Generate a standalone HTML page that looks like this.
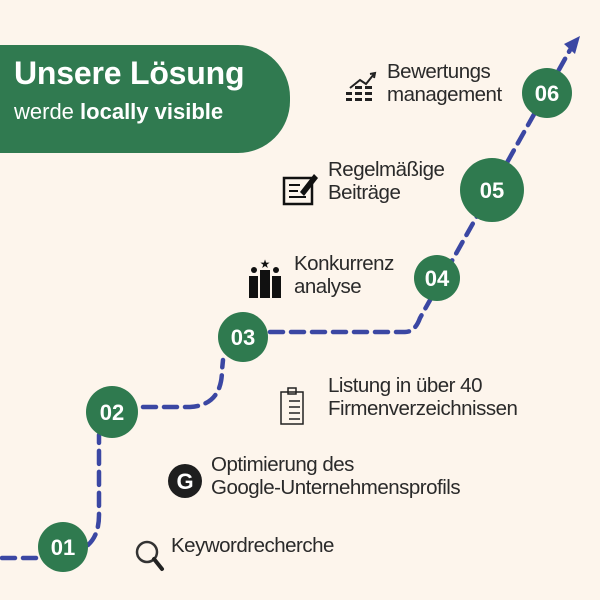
<!DOCTYPE html>
<html><head><meta charset="utf-8"><style>
html,body{margin:0;padding:0}
body{width:600px;height:600px;background:#fdf5ec;position:relative;overflow:hidden;font-family:"Liberation Sans",sans-serif;color:#2a2a2a}
.t{position:absolute;font-size:20.5px;line-height:23px;letter-spacing:-0.5px;white-space:nowrap}
</style></head><body>
<div style="position:absolute;left:0;top:45px;width:290px;height:108px;background:#307a50;border-radius:0 52px 52px 0"></div>
<div style="position:absolute;left:14px;top:55px;color:#fff;font-size:32px;font-weight:bold;letter-spacing:-0.2px">Unsere Lösung</div>
<div style="position:absolute;left:14px;top:99px;color:#fff;font-size:22px">werde <b>locally visible</b></div>
<svg width="600" height="600" style="position:absolute;left:0;top:0">
<g fill="none" stroke="#3b47a3" stroke-width="4.5" stroke-dasharray="13 8" stroke-linecap="round">
<path d="M2 558 L50 558 M88 545 Q99 535 99 515 L99 435 M143 407 L190 407 Q222 405 222 370 L223 360 M270 332 L405 332 Q415 332 420 318 L570 50"/>
</g>
<polygon points="580,36 564,44 575,54" fill="#3b47a3"/>
<g fill="#2f7a4f">
<circle cx="63" cy="547" r="25"/><circle cx="112" cy="412" r="26"/><circle cx="243" cy="337" r="25"/>
<circle cx="437" cy="278" r="23"/><circle cx="492" cy="190" r="32"/><circle cx="547" cy="93" r="25"/>
</g>
<g fill="#fff" font-family="Liberation Sans,sans-serif" font-weight="bold" font-size="22" text-anchor="middle">
<text x="63" y="555">01</text><text x="112" y="420">02</text><text x="243" y="345">03</text>
<text x="437" y="286">04</text><text x="492" y="198">05</text><text x="547" y="101">06</text>
</g>
<circle cx="147" cy="552" r="10" fill="none" stroke="#333" stroke-width="2.5"/>
<line x1="154" y1="559" x2="162" y2="569" stroke="#222" stroke-width="4" stroke-linecap="round"/>
<circle cx="185" cy="481" r="17" fill="#1e1e1e"/>
<text x="185" y="489" fill="#fff" font-size="22" font-weight="bold" text-anchor="middle" font-family="Liberation Sans,sans-serif">G</text>
<rect x="281" y="392" width="22" height="32" fill="none" stroke="#222" stroke-width="1.5"/>
<rect x="288" y="388" width="8" height="6" fill="none" stroke="#222" stroke-width="1.5"/>
<g stroke="#222" stroke-width="1.5"><line x1="289" y1="401" x2="300" y2="401"/><line x1="289" y1="407" x2="300" y2="407"/><line x1="289" y1="413" x2="300" y2="413"/><line x1="289" y1="419" x2="300" y2="419"/></g>
<g fill="#111"><rect x="249" y="276" width="9" height="22"/><rect x="260" y="270" width="10" height="28"/><rect x="272" y="276" width="9" height="22"/>
<circle cx="254" cy="270" r="3"/><circle cx="276" cy="270" r="3"/><text x="265" y="268" font-size="12" text-anchor="middle">★</text></g>
<rect x="284" y="178" width="28" height="26" fill="none" stroke="#111" stroke-width="2.5"/>
<g stroke="#111" stroke-width="2"><line x1="289" y1="185" x2="300" y2="185"/><line x1="289" y1="191" x2="298" y2="191"/><line x1="289" y1="197" x2="306" y2="197"/></g>
<path d="M300 192 L314 174 L318 178 L304 196 Z" fill="#111"/>
<g stroke="#222" stroke-width="2" fill="none"><path d="M350 88 L360 80 L366 84 L374 74"/><path d="M370 74 L375 73 L374 78"/></g>
<g fill="#222"><rect x="346" y="92" width="6" height="3"/><rect x="355" y="92" width="7" height="3"/><rect x="365" y="92" width="7" height="3"/><rect x="346" y="98" width="6" height="3"/><rect x="355" y="98" width="7" height="3"/><rect x="365" y="98" width="7" height="3"/><rect x="355" y="86" width="7" height="3"/><rect x="365" y="86" width="7" height="3"/></g>
</svg>
<div class="t" style="left:171px;top:534px">Keywordrecherche</div>
<div class="t" style="left:211px;top:453px">Optimierung des<br>Google-Unternehmensprofils</div>
<div class="t" style="left:328px;top:374px">Listung in über 40<br>Firmenverzeichnissen</div>
<div class="t" style="left:294px;top:252px">Konkurrenz<br>analyse</div>
<div class="t" style="left:328px;top:158px">Regelmäßige<br>Beiträge</div>
<div class="t" style="left:387px;top:60px">Bewertungs<br>management</div>
</body></html>
